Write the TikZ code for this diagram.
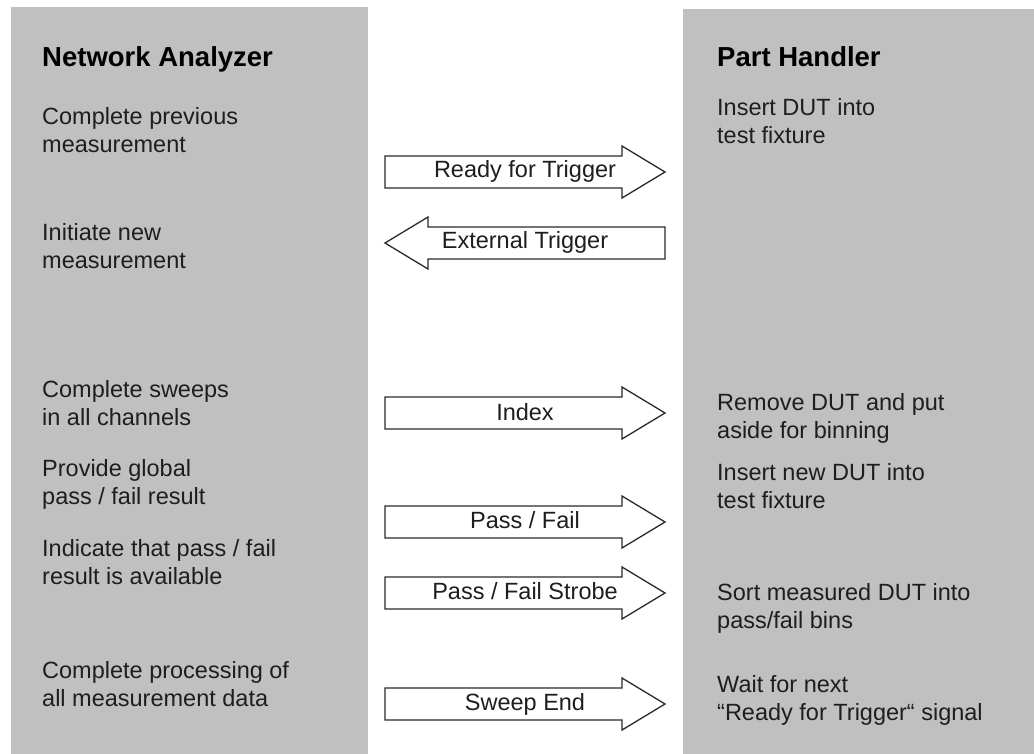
\documentclass[tikz,border=0pt]{standalone}
\usepackage{fontspec}
\setmainfont{Liberation Sans}
\definecolor{panelgray}{HTML}{C0C0C0}
\definecolor{textgray}{HTML}{1E1E1E}
\definecolor{arrowline}{HTML}{2A2A2A}
\begin{document}
\begin{tikzpicture}[x=1pt,y=-1pt,
  head/.style={font=\fontsize{27.5}{33}\selectfont\bfseries, text=black, anchor=base west, inner sep=0},
  body/.style={font=\fontsize{23.5}{28}\selectfont, text=textgray, anchor=north west, inner sep=0, align=left},
  barrow/.style={draw=arrowline, fill=white, line width=1.3pt, line join=miter},
  alabel/.style={font=\fontsize{23.5}{28}\selectfont, text=textgray, anchor=base, inner sep=0},
  rarr/.pic={\draw[barrow] (-140,-16) -- (97,-16) -- (97,-26) -- (140,0) -- (97,26) -- (97,16) -- (-140,16) -- cycle;},
  larr/.pic={\draw[barrow] (140,-16) -- (-97,-16) -- (-97,-26) -- (-140,0) -- (-97,26) -- (-97,16) -- (140,16) -- cycle;}]
\useasboundingbox (0,0) rectangle (1034,754);
\fill[white] (0,0) rectangle (1034,754);
% columns
\fill[panelgray] (11,7) rectangle (368,754);
\fill[panelgray] (683,9) rectangle (1034,754);
% headings
\node[head] (na) at (42,67) {Network Analyzer};
\node[head] (ph) at (717,67) {Part Handler};
% left texts
\node[body] (l1) at (42,107) {Complete previous\\measurement};
\node[body] (l2) at (42,223) {Initiate new\\measurement};
\node[body] (l3) at (42,380) {Complete sweeps\\in all channels};
\node[body] (l4) at (42,459) {Provide global\\pass / fail result};
\node[body] (l5) at (42,539) {Indicate that pass / fail\\result is available};
\node[body] (l6) at (42,661) {Complete processing of\\all measurement data};
% right texts
\node[body] (r1) at (717,98) {Insert DUT into\\test fixture};
\node[body] (r2) at (717,393) {Remove DUT and put\\aside for binning};
\node[body] (r3) at (717,463) {Insert new DUT into\\test fixture};
\node[body] (r4) at (717,583) {Sort measured DUT into\\pass/fail bins};
\node[body] (r5) at (717,675) {Wait for next\\“Ready for Trigger“ signal};
% arrows
\pic at (525,172) {rarr};
\node[alabel] (a1) at (525,178) {Ready for Trigger};
\pic at (525,243) {larr};
\node[alabel] (a2) at (525,249) {External Trigger};
\pic at (525,413) {rarr};
\node[alabel] (a3) at (525,420) {Index};
\pic at (525,522) {rarr};
\node[alabel] (a4) at (525,528) {Pass / Fail};
\pic at (525,593) {rarr};
\node[alabel] (a5) at (525,599) {Pass / Fail Strobe};
\pic at (525,704) {rarr};
\node[alabel] (a6) at (525,710) {Sweep End};
\end{tikzpicture}
\end{document}
